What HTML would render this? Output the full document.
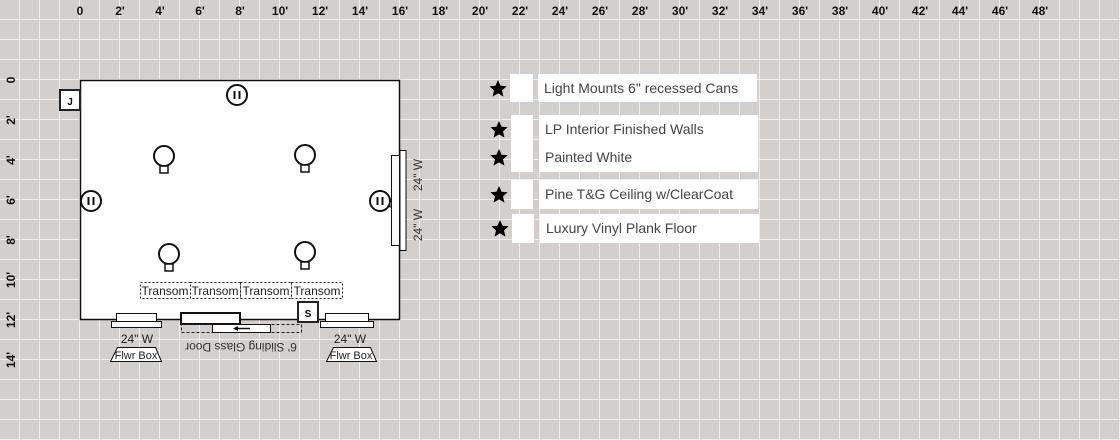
<!DOCTYPE html>
<html><head><style>
html,body{margin:0;padding:0;}
body{width:1120px;height:440px;overflow:hidden;background:#d3cfcc;}
svg{display:block;}
text{font-family:"Liberation Sans",sans-serif;}
</style></head><body>
<svg width="1120" height="440" viewBox="0 0 1120 440" xmlns="http://www.w3.org/2000/svg">
<defs>
<pattern id="g" width="20" height="20" patternUnits="userSpaceOnUse">
<rect width="20" height="20" fill="#d3cfcc"/>
<rect x="19" y="0" width="2" height="20" fill="#eeeeee"/>
<rect x="0" y="19" width="20" height="2" fill="#eeeeee"/>
</pattern>
<g id="bulb"><circle cx="0" cy="0" r="10" fill="#fff" stroke="#111" stroke-width="2"/><rect x="-4" y="10" width="8" height="7" fill="#fff" stroke="#111" stroke-width="1.5"/></g>
<g id="out"><circle cx="0" cy="0" r="10" fill="#fff" stroke="#111" stroke-width="2"/><line x1="-2.5" y1="-4" x2="-2.5" y2="4" stroke="#111" stroke-width="2"/><line x1="2.5" y1="-4" x2="2.5" y2="4" stroke="#111" stroke-width="2"/></g>
<path id="star" d="M0,-9 L2.6,-3.2 L8.6,-2.8 L4,1.4 L5.4,7.5 L0,4.4 L-5.4,7.5 L-4,1.4 L-8.6,-2.8 L-2.6,-3.2Z" fill="#000"/>
</defs>
<rect width="1120" height="440" fill="url(#g)"/>
<g font-size="12" font-weight="bold" fill="#111" text-anchor="middle">
<text x="80" y="15">0</text><text x="120" y="15">2'</text><text x="160" y="15">4'</text><text x="200" y="15">6'</text><text x="240" y="15">8'</text><text x="280" y="15">10'</text><text x="320" y="15">12'</text><text x="360" y="15">14'</text><text x="400" y="15">16'</text><text x="440" y="15">18'</text><text x="480" y="15">20'</text><text x="520" y="15">22'</text><text x="560" y="15">24'</text><text x="600" y="15">26'</text><text x="640" y="15">28'</text><text x="680" y="15">30'</text><text x="720" y="15">32'</text><text x="760" y="15">34'</text><text x="800" y="15">36'</text><text x="840" y="15">38'</text><text x="880" y="15">40'</text><text x="920" y="15">42'</text><text x="960" y="15">44'</text><text x="1000" y="15">46'</text><text x="1040" y="15">48'</text>
<text transform="translate(15,80) rotate(-90)">0</text><text transform="translate(15,120) rotate(-90)">2'</text><text transform="translate(15,160) rotate(-90)">4'</text><text transform="translate(15,200) rotate(-90)">6'</text><text transform="translate(15,240) rotate(-90)">8'</text><text transform="translate(15,280) rotate(-90)">10'</text><text transform="translate(15,320) rotate(-90)">12'</text><text transform="translate(15,360) rotate(-90)">14'</text>
</g>
<rect x="80.5" y="80.5" width="319" height="239" fill="#fff" stroke="#111" stroke-width="1.5"/>
<rect x="60" y="90" width="20" height="20" fill="#fff" stroke="#222" stroke-width="2"/>
<text x="70" y="105" font-size="10" font-weight="bold" text-anchor="middle">J</text>
<use href="#out" x="237" y="95"/><use href="#out" x="91" y="201"/><use href="#out" x="380" y="201"/>
<use href="#bulb" x="164" y="156"/><use href="#bulb" x="305" y="155"/><use href="#bulb" x="169" y="254"/><use href="#bulb" x="305" y="252"/>
<rect x="390" y="202" width="10" height="5" fill="#fff" stroke="#111"/>
<rect x="391.5" y="155.5" width="8" height="90" fill="#fff" stroke="#111"/>
<rect x="400" y="150.5" width="6" height="100" fill="#fff" stroke="#111"/>
<text transform="translate(422,175) rotate(-90)" font-size="12" fill="#333" text-anchor="middle">24" W</text>
<text transform="translate(422,225) rotate(-90)" font-size="12" fill="#333" text-anchor="middle">24" W</text>
<g font-size="12" fill="#222" text-anchor="middle">
<rect x="140.5" y="282.5" width="50" height="16" fill="#fff" stroke="#222" stroke-dasharray="2,2"/><text x="165" y="295">Transom</text>
<rect x="190.5" y="282.5" width="50" height="16" fill="#fff" stroke="#222" stroke-dasharray="2,2"/><text x="215" y="295">Transom</text>
<rect x="240.5" y="282.5" width="51" height="16" fill="#fff" stroke="#222" stroke-dasharray="2,2"/><text x="266" y="295">Transom</text>
<rect x="291.5" y="282.5" width="51" height="16" fill="#fff" stroke="#222" stroke-dasharray="2,2"/><text x="317" y="295">Transom</text>
</g>
<rect x="298" y="302" width="20" height="20" fill="#fff" stroke="#222" stroke-width="2"/>
<text x="308" y="317" font-size="10" font-weight="bold" text-anchor="middle">S</text>
<rect x="116.5" y="313.5" width="40" height="8" fill="#fff" stroke="#111"/>
<rect x="111.5" y="321.5" width="50" height="6" fill="#fff" stroke="#111"/>
<rect x="325.5" y="313.5" width="43" height="8" fill="#fff" stroke="#111"/>
<rect x="320.5" y="321.5" width="53" height="6" fill="#fff" stroke="#111"/>
<rect x="181" y="313" width="59" height="11" fill="#fff" stroke="#111" stroke-width="2"/>
<rect x="181.5" y="324.5" width="120" height="8" fill="none" stroke="#222" stroke-dasharray="3,2"/>
<rect x="212.5" y="324.5" width="58" height="8" fill="#fff" stroke="#111"/>
<line x1="236" y1="328.5" x2="250" y2="328.5" stroke="#111" stroke-width="1.5"/><path d="M233,328.5 L238,326 L238,331Z" fill="#111"/>
<text transform="translate(241,343) rotate(180)" font-size="12" fill="#333" text-anchor="middle">6' Sliding Glass Door</text>
<text x="137" y="343" font-size="12" fill="#222" text-anchor="middle">24" W</text>
<text x="350" y="343" font-size="12" fill="#222" text-anchor="middle">24" W</text>
<path d="M117.5,347.5 L155.5,347.5 L161.5,361.5 L110.5,361.5Z" fill="#fff" stroke="#111"/>
<text x="136" y="359" font-size="11" fill="#222" text-anchor="middle">Flwr Box</text>
<path d="M333.5,347.5 L370.5,347.5 L376.5,361.5 L326.5,361.5Z" fill="#fff" stroke="#111"/>
<text x="351" y="359" font-size="11" fill="#222" text-anchor="middle">Flwr Box</text>
<g fill="#fff">
<rect x="510" y="74" width="23" height="28"/><rect x="538" y="74" width="219" height="28"/>
<rect x="511" y="115" width="22" height="57"/><rect x="539" y="115" width="219" height="57"/>
<rect x="511" y="180" width="22" height="29"/><rect x="539" y="180" width="219" height="29"/>
<rect x="512" y="214" width="22" height="29"/><rect x="540" y="214" width="219" height="29"/>
</g>
<use href="#star" x="498" y="89"/><use href="#star" x="499" y="130"/><use href="#star" x="499" y="158"/><use href="#star" x="499" y="195"/><use href="#star" x="500" y="229"/>
<g font-size="14" fill="#444">
<text x="544" y="93">Light Mounts 6" recessed Cans</text>
<text x="545" y="134">LP Interior Finished Walls</text>
<text x="545" y="162">Painted White</text>
<text x="545" y="199">Pine T&amp;G Ceiling w/ClearCoat</text>
<text x="546" y="233">Luxury Vinyl Plank Floor</text>
</g>
</svg>
</body></html>
